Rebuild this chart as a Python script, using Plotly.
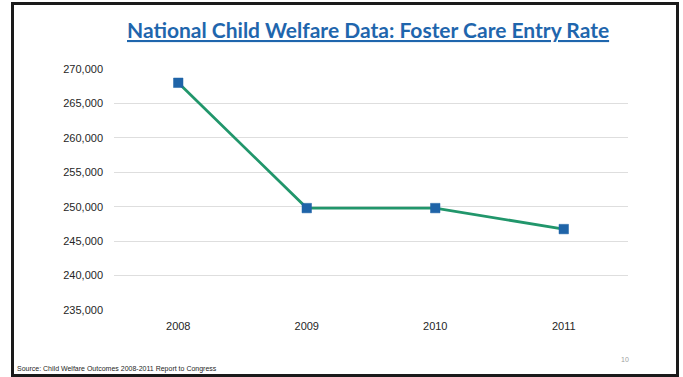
import plotly.graph_objects as go

# Foster care entries by fiscal year
years = ["2008", "2009", "2010", "2011"]
entries = [268000, 249800, 249800, 246750]

y_ticks = [235000, 240000, 245000, 250000, 255000, 260000, 265000, 270000]

title_text = "National Child Welfare Data: Foster Care Entry Rate"
source_text = "Source: Child Welfare Outcomes 2008-2011 Report to Congress"
page_number = "10"

W, H = 683, 377
L, R, T, B = 114, 55, 69, 67
pw, ph = W - L - R, H - T - B


def px(x):
    return (x - L) / pw


def py(y):
    return (H - B - y) / ph


fig = go.Figure()
fig.add_trace(go.Scatter(
    x=years, y=entries, mode="lines+markers",
    line=dict(color="#21966b", width=2.8),
    marker=dict(symbol="square", size=9.5, color="#1f64a8",
                line=dict(color="#1f64a8", width=0.5)),
    showlegend=False, hoverinfo="x+y",
))

fig.update_layout(
    width=W, height=H,
    margin=dict(l=L, r=R, t=T, b=B),
    paper_bgcolor="white", plot_bgcolor="white",
    font=dict(family="Liberation Sans, Arial, sans-serif", color="#262626"),
    xaxis=dict(
        type="category", range=[-0.5, len(years) - 0.5],
        showgrid=False, showline=False, zeroline=False,
        tickfont=dict(size=11, color="#262626"), ticks="",
        ticklabelstandoff=8,
    ),
    yaxis=dict(
        range=[235000, 270000], tickvals=y_ticks,
        tickformat=",d", showgrid=True, gridcolor="#dedede", gridwidth=1,
        zeroline=False, showline=False, ticks="",
        tickfont=dict(size=11, color="#262626"), ticklabelstandoff=10,
    ),
    shapes=[
        dict(type="rect", xref="paper", yref="paper",
             x0=px(12.5), x1=px(677.5), y0=py(375.5), y1=py(3.5),
             line=dict(color="#1a1a1a", width=3), fillcolor="rgba(0,0,0,0)",
             layer="above"),
    ],
    annotations=[
        dict(text="<b>" + title_text + "</b>", xref="paper", yref="paper",
             x=px(368), y=py(30), xanchor="center", yanchor="middle",
             showarrow=False,
             font=dict(family="Lato, sans-serif", size=21, color="#1f66ad",
                       lineposition="under")),
        dict(text=source_text, xref="paper", yref="paper",
             x=px(15), y=py(369), xanchor="left", yanchor="middle",
             showarrow=False,
             font=dict(family="Liberation Sans, sans-serif",
                       size=7, color="#262626")),
        dict(text=page_number, xref="paper", yref="paper",
             x=px(625), y=py(359), xanchor="center", yanchor="middle",
             showarrow=False,
             font=dict(size=7, color="#a0a0a0")),
    ],
)

fig.write_html("out.html")
